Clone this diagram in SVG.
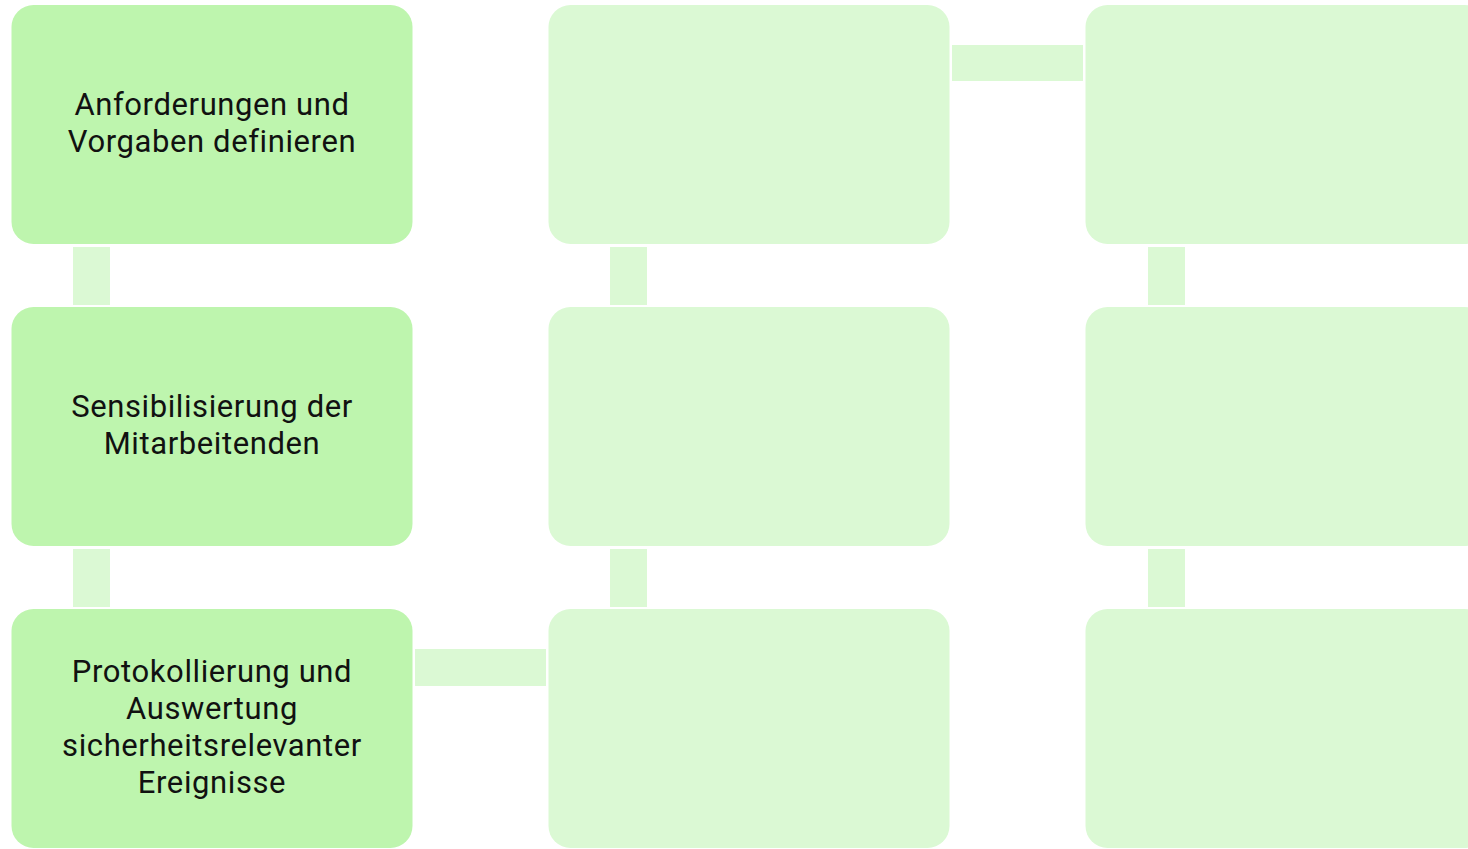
<svg xmlns="http://www.w3.org/2000/svg" width="1468" height="849" viewBox="0 0 1468 849">
<style>
.n{fill:#bef5ae}
.l{fill:#dbf9d4}
.c{fill:#dbf9d4}
text{font-family:Roboto,"Liberation Sans",sans-serif;font-size:31px;letter-spacing:0.6px;fill:#111;text-anchor:middle}
</style>
<rect width="1468" height="849" fill="#fff"/>
<g id="connectors">
<rect class="c" x="73" y="247" width="37" height="58"/>
<rect class="c" x="73" y="549" width="37" height="58"/>
<rect class="c" x="610" y="247" width="37" height="58"/>
<rect class="c" x="610" y="549" width="37" height="58"/>
<rect class="c" x="1148" y="247" width="37" height="58"/>
<rect class="c" x="1148" y="549" width="37" height="58"/>
<rect class="c" x="952" y="45" width="131" height="36"/>
<rect class="c" x="415" y="649" width="131" height="37"/>
</g>
<g id="n1"><rect class="n" x="11.5" y="5" width="401" height="239" rx="22"/>
<text x="212" y="115">Anforderungen und</text><text x="212" y="152">Vorgaben definieren</text></g>
<g id="n2"><rect class="n" x="11.5" y="307" width="401" height="239" rx="22"/>
<text x="212" y="417">Sensibilisierung der</text><text x="212" y="454">Mitarbeitenden</text></g>
<g id="n3"><rect class="n" x="11.5" y="609" width="401" height="239" rx="22"/>
<text x="212" y="682">Protokollierung und</text><text x="212" y="719">Auswertung</text><text x="212" y="756">sicherheitsrelevanter</text><text x="212" y="793">Ereignisse</text></g>
<g id="n4"><rect class="l" x="548.5" y="5" width="401" height="239" rx="22"/></g>
<g id="n5"><rect class="l" x="548.5" y="307" width="401" height="239" rx="22"/></g>
<g id="n6"><rect class="l" x="548.5" y="609" width="401" height="239" rx="22"/></g>
<g id="n7"><rect class="l" x="1085.5" y="5" width="401" height="239" rx="22"/></g>
<g id="n8"><rect class="l" x="1085.5" y="307" width="401" height="239" rx="22"/></g>
<g id="n9"><rect class="l" x="1085.5" y="609" width="401" height="239" rx="22"/></g>
</svg>
